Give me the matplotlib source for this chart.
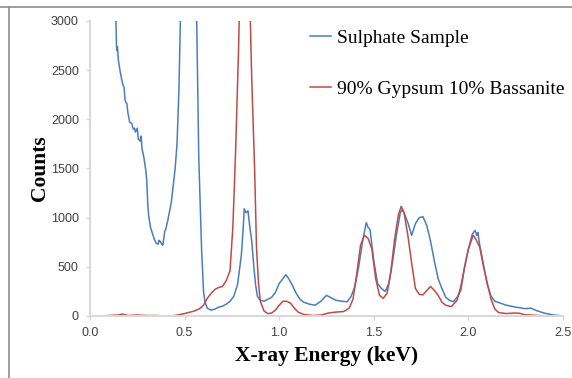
import matplotlib
matplotlib.use('Agg')
import matplotlib.pyplot as plt
from matplotlib.lines import Line2D

# Sulphate sample (blue)
sulph_e = [0.10, 0.13, 0.137, 0.14, 0.143, 0.145, 0.15, 0.16, 0.17, 0.176, 0.18, 0.185,
           0.19, 0.195, 0.20, 0.21, 0.22, 0.229, 0.235, 0.24, 0.25, 0.255, 0.265, 0.27,
           0.275, 0.285, 0.295, 0.30, 0.305, 0.31, 0.32, 0.33, 0.34, 0.35, 0.36, 0.365,
           0.37, 0.38, 0.385, 0.39, 0.395, 0.40, 0.41, 0.42, 0.43, 0.44, 0.45, 0.46,
           0.47, 0.48, 0.50, 0.52, 0.55, 0.564, 0.575, 0.59, 0.60, 0.608, 0.62, 0.64,
           0.66, 0.68, 0.70, 0.72, 0.74, 0.76, 0.78, 0.80, 0.81, 0.815, 0.825, 0.835,
           0.845, 0.855, 0.865, 0.875, 0.885, 0.90, 0.92, 0.94, 0.96, 0.98, 1.00, 1.02,
           1.035, 1.05, 1.07, 1.09, 1.11, 1.13, 1.16, 1.19, 1.22, 1.25, 1.27, 1.30,
           1.33, 1.36, 1.38, 1.40, 1.42, 1.44, 1.46, 1.47, 1.48, 1.50, 1.52, 1.54,
           1.56, 1.58, 1.60, 1.62, 1.64, 1.65, 1.66, 1.68, 1.70, 1.72, 1.74, 1.76,
           1.78, 1.80, 1.82, 1.84, 1.86, 1.88, 1.90, 1.92, 1.94, 1.96, 1.98, 2.00,
           2.02, 2.035, 2.045, 2.05, 2.06, 2.08, 2.10, 2.12, 2.14, 2.17, 2.20, 2.25,
           2.30, 2.33, 2.36, 2.40, 2.45, 2.49]
sulph_c = [6000, 3300, 3000, 2750, 2700, 2740, 2600, 2480, 2380, 2340, 2330, 2200,
           2170, 2160, 2070, 1970, 1960, 1900, 1910, 1870, 1910, 1800, 1780, 1830,
           1700, 1610, 1480, 1380, 1150, 1020, 900, 840, 780, 740, 730, 770,
           760, 730, 720, 790, 860, 880, 960, 1060, 1160, 1330, 1500, 1750,
           2300, 3200, 6000, 8000, 5000, 3000, 1600, 670, 250, 140, 80, 60,
           70, 90, 100, 120, 150, 200, 320, 620, 900, 1090, 1050, 1070,
           900, 760, 520, 320, 200, 160, 150, 170, 190, 240, 330, 380,
           420, 380, 310, 230, 170, 140, 120, 110, 150, 210, 190, 160,
           150, 145, 200, 300, 500, 750, 950, 900, 880, 560, 330, 280,
           250, 330, 560, 830, 1050, 1080, 1050, 950, 820, 940, 1000, 1010,
           920, 760, 560, 380, 280, 190, 160, 145, 190, 260, 500, 680,
           830, 870, 820, 850, 720, 520, 320, 200, 150, 130, 110, 90,
           75, 80, 55, 30, 10, 3]

# 90% gypsum 10% bassanite reference (red)
gyp_e = [0.0, 0.05, 0.10, 0.15, 0.17, 0.20, 0.25, 0.30, 0.35, 0.40, 0.45, 0.50,
         0.55, 0.58, 0.60, 0.62, 0.64, 0.66, 0.68, 0.70, 0.72, 0.74, 0.755, 0.77,
         0.785, 0.80, 0.82, 0.84, 0.855, 0.87, 0.88, 0.89, 0.90, 0.92, 0.94, 0.96,
         0.98, 1.00, 1.02, 1.04, 1.06, 1.08, 1.10, 1.13, 1.18, 1.22, 1.26, 1.30,
         1.34, 1.37, 1.39, 1.41, 1.43, 1.45, 1.47, 1.49, 1.51, 1.53, 1.55, 1.57,
         1.59, 1.61, 1.63, 1.645, 1.66, 1.68, 1.70, 1.72, 1.74, 1.76, 1.78, 1.80,
         1.82, 1.84, 1.86, 1.88, 1.91, 1.94, 1.96, 1.98, 2.00, 2.025, 2.04, 2.06,
         2.08, 2.10, 2.12, 2.14, 2.16, 2.20, 2.24, 2.27, 2.30, 2.35, 2.40]
gyp_c = [0, 0, 5, 10, 20, 5, 10, 5, 5, 0, 5, 25,
         50, 75, 110, 180, 230, 270, 290, 300, 360, 460, 900, 1700,
         2700, 4000, 5000, 3600, 2400, 1500, 700, 350, 150, 50, 25, 30,
         60, 110, 150, 150, 130, 80, 40, 15, 5, 10, 30, 40,
         45, 80, 170, 430, 720, 820, 790, 680, 380, 210, 180, 230,
         450, 780, 1030, 1115, 1050, 820, 540, 280, 220, 215, 260, 300,
         260, 210, 140, 110, 95, 160, 300, 500, 680, 820, 780, 700,
         500, 330, 170, 70, 35, 25, 30, 28, 12, 8, 0]

x_ticks = [0.0, 0.5, 1.0, 1.5, 2.0, 2.5]
y_ticks = [0, 500, 1000, 1500, 2000, 2500, 3000]

blue = '#4a7ebb'
red = '#be4b48'
grey = '#d9d9d9'

fig = plt.figure(figsize=(5.72, 3.78), dpi=100)
ax = fig.add_axes([90/572, 1 - 316/378, (563 - 90)/572, (316 - 21)/378])

ax.plot(sulph_e, sulph_c, color=blue, lw=1.1, label='Sulphate Sample')
ax.plot(gyp_e, gyp_c, color=red, lw=1.1, label='90% Gypsum 10% Bassanite')

ax.set_xlim(0, 2.5)
ax.set_ylim(0, 3000)
ax.set_xticks(x_ticks)
ax.set_xticklabels(['%.1f' % t for t in x_ticks])
ax.set_yticks(y_ticks)

for s in ['top', 'right']:
    ax.spines[s].set_visible(False)
for s in ['left', 'bottom']:
    ax.spines[s].set_color(grey)
    ax.spines[s].set_linewidth(1.5)
ax.tick_params(axis='both', direction='out', length=3, width=1, color=grey,
               labelsize=9, labelcolor='#404040', pad=5)
for lab in ax.get_xticklabels() + ax.get_yticklabels():
    lab.set_family('Liberation Sans')

ax.set_xlabel('X-ray Energy (keV)', family='Liberation Serif', fontsize=15.5,
              fontweight='bold', labelpad=5)
ax.set_ylabel('Counts', family='Liberation Serif', fontsize=15.5,
              fontweight='bold', labelpad=1)

leg = ax.legend(loc='upper left', bbox_to_anchor=(310/572, 1 - 29/378),
                bbox_transform=fig.transFigure, frameon=False,
                prop={'family': 'Liberation Serif', 'size': 14},
                handlelength=1.1, handletextpad=0.3, labelspacing=1.75,
                borderpad=0, borderaxespad=0)

# outer frame seen in the picture (top and left edges)
fig.add_artist(Line2D([0, 1], [1 - 7/378, 1 - 7/378], transform=fig.transFigure,
                      color='#8c8c8c', lw=1.2))
fig.add_artist(Line2D([9/572, 9/572], [0, 1 - 7/378], transform=fig.transFigure,
                      color='#8c8c8c', lw=1.2))

fig.savefig('out.png', dpi=100)
